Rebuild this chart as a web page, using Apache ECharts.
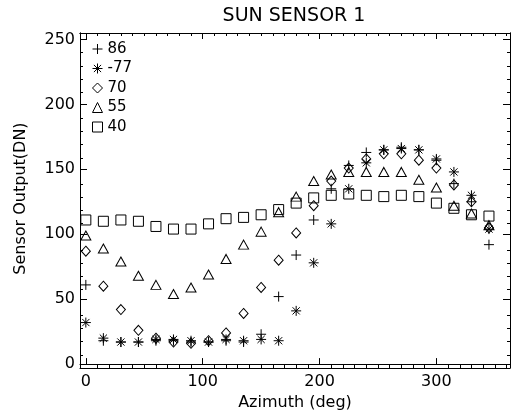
<!DOCTYPE html>
<html>
<head>
<meta charset="utf-8">
<script src="https://cdn.jsdelivr.net/npm/echarts@6/dist/echarts.min.js"></script>
<style>html,body{margin:0;padding:0;background:#fff;}#c{width:512px;height:416px;}</style>
</head>
<body>
<div id="c"></div>
<script>
// Azimuth (deg)
var azimuth = [0,15,30,45,60,75,90,105,120,135,150,165,180,195,210,225,240,255,270,285,300,315,330,345];
// Sensor output (DN) per elevation
var s86  = [61,18,17,17,18,18,17,17,18,17,23,52,84,111,135,153,163,165,167,165,157,139,125,92];
var sM77 = [32,20,17,17,19,19,18,17,19,18,19,18,41,78,108,135,155,165,166,165,158,148,130,104];
var s70  = [87,60,42,26,20,17,16,18,24,39,59,80,101,122,141,151,158,162,162,157,151,138,125,105];
var s55  = [99,89,79,68,61,54,59,69,81,92,102,117,129,141,146,148,148,148,148,142,136,122,116,107];
var s40  = [111,110,111,110,106,104,104,108,112,113,115,119,124,128,130,131,130,129,130,129,124,120,115,114];
var seriesNames = ['86','-77','70','55','40'];
var xMajor = [0,100,200,300];
var xMinor = [10,20,30,40,50,60,70,80,90,110,120,130,140,150,160,170,180,190,210,220,230,240,250,260,270,280,290,310,320,330,340,350,360];
var yMajor = [0,50,100,150,200,250];
var yMinor = [10,20,30,40,60,70,80,90,110,120,130,140,160,170,180,190,210,220,230,240];

function pairs(v){ return azimuth.map(function(a,i){ return [a, v[i]]; }); }

var FONT = 'DejaVu Sans';
var lineStyle = {color:'#000', width:1};
function xAx(grid, pos, ticks, len, labels, extra){
  var o = {type:'value', gridIndex:grid, position:pos, min:-5, max:363,
    axisLine:{show:true, onZero:false, lineStyle:lineStyle},
    axisTick:{show:true, inside:true, length:len, customValues:ticks, lineStyle:lineStyle},
    axisLabel:labels ? {show:true, customValues:ticks, color:'#000', fontFamily:FONT, fontSize:16, margin:10} : {show:false},
    splitLine:{show:false}};
  for (var k in extra) o[k]=extra[k];
  return o;
}
function yAx(grid, pos, ticks, len, labels, extra){
  var o = {type:'value', gridIndex:grid, position:pos, min:0, max:255,
    axisLine:{show:true, onZero:false, lineStyle:lineStyle},
    axisTick:{show:true, inside:true, length:len, customValues:ticks, lineStyle:lineStyle},
    axisLabel:labels ? {show:true, customValues:ticks, color:'#000', fontFamily:FONT, fontSize:16, margin:5} : {show:false},
    splitLine:{show:false}};
  for (var k in extra) o[k]=extra[k];
  return o;
}
var gridRect = {left:80, right:2, top:33, bottom:48, containLabel:false};

var sym = {
  plus: 'path://M0,-5L0,5M-5,0L5,0',
  star: 'path://M0,-5L0,5M-5,0L5,0M-3.6,-3.6L3.6,3.6M-3.6,3.6L3.6,-3.6'
};
var styles = [
  {symbol:sym.plus, size:10},
  {symbol:sym.star, size:10},
  {symbol:'diamond', size:[9,10]},
  {symbol:'triangle', size:[10,9]},
  {symbol:'rect', size:[10,10]}
];
var dataSets = [s86, sM77, s70, s55, s40];

var chart = echarts.init(document.getElementById('c'), null, {renderer:'canvas'});
chart.setOption({
  animation:false,
  backgroundColor:'#fff',
  title:{text:'SUN SENSOR 1', left:294, top:7, padding:0, textAlign:'center',
    textStyle:{color:'#000', fontFamily:FONT, fontSize:19, fontWeight:'normal'}},
  legend:{orient:'vertical', left:92, top:41, padding:0, itemGap:3.5, itemWidth:10, itemHeight:10,
    itemStyle:{borderWidth:1, borderColor:'#000', color:'rgba(0,0,0,0)'},
    textStyle:{color:'#000', fontFamily:FONT, fontSize:15, lineHeight:16},
    data:seriesNames},
  grid:[gridRect, gridRect],
  xAxis:[
    xAx(0,'bottom',xMajor,6,true,{name:'Azimuth (deg)', nameLocation:'middle', nameGap:27,
      nameTextStyle:{color:'#000', fontFamily:FONT, fontSize:16}}),
    xAx(0,'top',xMajor,6,false,{}),
    xAx(1,'bottom',xMinor,3,false,{}),
    xAx(1,'top',xMinor,3,false,{})
  ],
  yAxis:[
    yAx(0,'left',yMajor,7,true,{name:'Sensor Output(DN)', nameLocation:'middle', nameGap:51,
      nameTextStyle:{color:'#000', fontFamily:FONT, fontSize:16}}),
    yAx(0,'right',yMajor,7,false,{}),
    yAx(1,'left',yMinor,3,false,{}),
    yAx(1,'right',yMinor,3,false,{})
  ],
  series: dataSets.map(function(d,i){
    return {type:'scatter', name:seriesNames[i], xAxisIndex:0, yAxisIndex:0,
      symbol:styles[i].symbol, symbolSize:styles[i].size,
      itemStyle:{color:'rgba(0,0,0,0)', borderColor:'#000', borderWidth:1, opacity:1},
      emphasis:{disabled:true},
      data:pairs(d)};
  })
});
</script>
</body>
</html>
